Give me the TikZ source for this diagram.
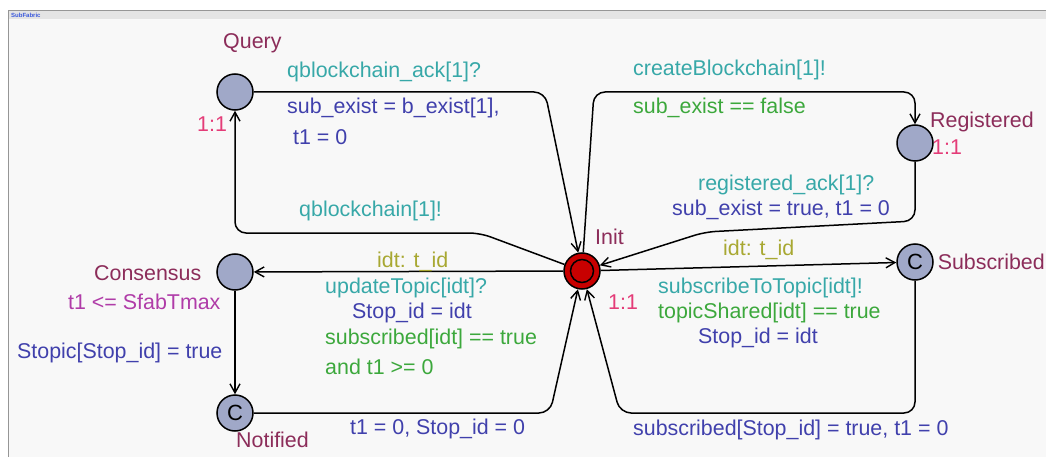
\documentclass[tikz,border=0pt]{standalone}
\usepackage{fontspec}
\setmainfont{Liberation Sans}
\usetikzlibrary{arrows.meta}

\definecolor{panelbg}{RGB}{248,248,248}
\definecolor{headerbg}{RGB}{228,228,228}
\definecolor{framegray}{RGB}{150,150,150}
\definecolor{titleblue}{RGB}{60,90,220}
\definecolor{locfill}{RGB}{160,168,200}
\definecolor{initred}{RGB}{200,0,0}
\definecolor{cname}{RGB}{140,45,90}
\definecolor{csync}{RGB}{55,168,168}
\definecolor{cassign}{RGB}{64,64,172}
\definecolor{cguard}{RGB}{60,168,60}
\definecolor{cselect}{RGB}{168,168,50}
\definecolor{cinv}{RGB}{176,60,168}
\definecolor{crate}{RGB}{228,60,120}

\tikzset{
  loc/.style={circle, draw=black, line width=1.5pt, fill=locfill,
    minimum size=36pt, inner sep=0pt, font=\fontsize{22}{22}\selectfont},
  initloc/.style={loc, fill=initred},
  trans/.style={draw=black, line width=1.5pt, rounded corners=11pt,
    -{Straight Barb[length=9pt,width=10pt,line width=1.4pt]}},
  lbl/.style={inner sep=0pt, anchor=west, font=\fontsize{21.4}{24}\selectfont},
  locname/.style={lbl, text=cname},
  sync/.style={lbl, text=csync},
  assign/.style={lbl, text=cassign},
  guard/.style={lbl, text=cguard},
  select/.style={lbl, text=cselect},
  invar/.style={lbl, text=cinv},
  rate/.style={lbl, text=crate},
}

\begin{document}
\begin{tikzpicture}[x=1pt,y=-1pt]
\useasboundingbox (0,0) rectangle (1046,457);
\fill[white] (0,0) rectangle (1046,457);

% template panel with its header bar
\fill[panelbg] (8,10) rectangle (1046,457);
\fill[headerbg] (8,10) rectangle (1046,19);
\draw[framegray, line width=0.8pt] (8,457) -- (8,10) -- (1046,10);
\node[inner sep=0pt, anchor=west, text=titleblue,
  font=\fontsize{6}{6}\selectfont\bfseries] (title) at (11,15) {SubFabric};

% locations
\node[loc] (query) at (235,92) {};
\node[initloc] (init) at (582,271) {};
\node[circle, draw=black, line width=1.5pt, minimum size=23pt, inner sep=0pt]
  (initmark) at (init) {};
\node[loc] (reg) at (915,143) {};
\node[loc] (sub) at (915,262) {C};
\node[loc] (cons) at (235,272) {};
\node[loc] (notif) at (235,413) {C};

% location names, invariants and rates
\node[locname] (nquery) at (223,43) {Query};
\node[rate] (rquery) at (197,124) {1:1};
\node[locname] (nreg) at (930,122) {Registered};
\node[rate] (rreg) at (932,147) {1:1};
\node[locname] (ninit) at (595,237) {Init};
\node[rate] (rinit) at (608,302) {1:1};
\node[locname, anchor=east] (nsub) at (1045,262) {Subscribed};
\node[locname] (ncons) at (94,273) {Consensus};
\node[invar] (icons) at (68,302) {t1 <= SfabTmax};
\node[locname] (nnotif) at (236,440) {Notified};

% transitions
\draw[trans] (query) -- (545,92) -- (init);
\draw[trans] (init) -- (480,233) -- (235,233) -- (query);
\draw[trans] (init) -- (594,92) -- (915,92) -- (reg);
\draw[trans] (reg) -- (915,221) -- (705,232) -- (init);
\draw[trans] (init) -- (sub);
\draw[trans] (sub) -- (915,413) -- (620,413) -- (init);
\draw[trans] (init) -- (cons);
\draw[trans] (cons) -- (notif);
\draw[trans] (notif) -- (550,413) -- (init);

% transition labels
\node[sync] (s1) at (287,72) {qblockchain\_ack[1]?};
\node[assign] (a1) at (287,108) {sub\_exist = b\_exist[1],};
\node[assign] (a1b) at (293,137) {t1 = 0};
\node[sync] (s2) at (299,211) {qblockchain[1]!};

\node[sync] (s3) at (633,70) {createBlockchain[1]!};
\node[guard] (g3) at (633,108) {sub\_exist == false};

\node[sync] (s4) at (698,185) {registered\_ack[1]?};
\node[assign] (a4) at (672,210) {sub\_exist = true, t1 = 0};

\node[select] (e5) at (723,250) {idt: t\_id};
\node[sync] (s5) at (658,288) {subscribeToTopic[idt]!};
\node[guard] (g5) at (658,313) {topicShared[idt] == true};
\node[assign] (a5) at (698,338) {Stop\_id = idt};

\node[assign] (a6) at (633,430) {subscribed[Stop\_id] = true, t1 = 0};

\node[select] (e7) at (377,262) {idt: t\_id};
\node[sync] (s7) at (325,288) {updateTopic[idt]?};
\node[assign] (a7) at (352,313) {Stop\_id = idt};
\node[guard] (g7) at (325,339) {subscribed[idt] == true};
\node[guard] (g7b) at (325,367) {and t1 >= 0};

\node[assign] (a8) at (17,353) {Stopic[Stop\_id] = true};

\node[assign] (a9) at (350,429) {t1 = 0, Stop\_id = 0};
\end{tikzpicture}
\end{document}
